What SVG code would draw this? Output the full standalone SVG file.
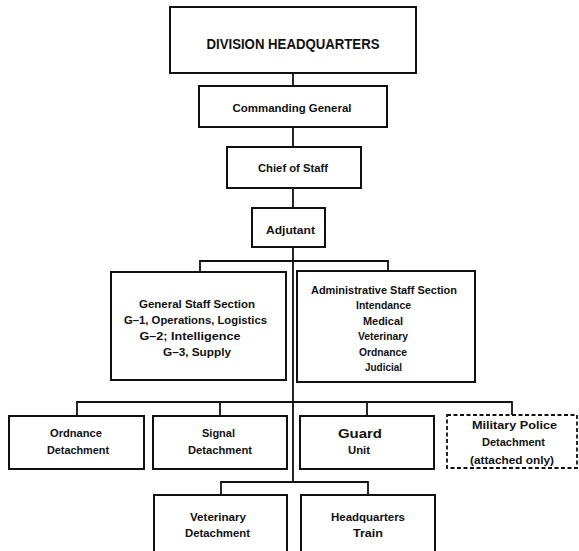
<svg xmlns="http://www.w3.org/2000/svg" width="579" height="551" viewBox="0 0 579 551">
<style>
.box{fill:#fff;stroke:#111;stroke-width:2}
.dash{fill:#fff;stroke:#111;stroke-width:1.8;stroke-dasharray:4 2.5}
.ln{fill:none;stroke:#111;stroke-width:1.8}
text{font-family:"Liberation Sans",Arial,sans-serif;font-weight:bold;fill:#111;text-anchor:middle;font-size:11.5px}
.big{font-size:14.5px}
</style>
<rect width="579" height="551" fill="#fff"/>
<g id="connectors">
<path class="ln" d="M293 73V86M293 127V147M293 188V208M293 247V482"/>
<path class="ln" d="M200 272V261H388V272"/>
<path class="ln" d="M77 416V402H512V415M220 402V416M367 402V416"/>
<path class="ln" d="M221 495V482H368V495"/>
</g>
<g id="division-hq"><rect class="box" x="170" y="7" width="246" height="66"/><text class="big" x="293" y="48.5" textLength="173" lengthAdjust="spacingAndGlyphs">DIVISION HEADQUARTERS</text></g>
<g id="commanding-general"><rect class="box" x="199" y="86" width="188" height="41"/><text x="292" y="112" textLength="119" lengthAdjust="spacingAndGlyphs">Commanding General</text></g>
<g id="chief-of-staff"><rect class="box" x="227" y="147" width="134" height="41"/><text x="293" y="172" textLength="70" lengthAdjust="spacingAndGlyphs">Chief of Staff</text></g>
<g id="adjutant"><rect class="box" x="252" y="208" width="73" height="39"/><text x="290.5" y="234" textLength="49" lengthAdjust="spacingAndGlyphs">Adjutant</text></g>
<g id="general-staff"><rect class="box" x="111" y="272" width="175" height="108"/>
<text x="197" y="308" textLength="116" lengthAdjust="spacingAndGlyphs">General Staff Section</text>
<text x="195.5" y="324" textLength="143" lengthAdjust="spacingAndGlyphs">G–1, Operations, Logistics</text>
<text x="190" y="340" textLength="101" lengthAdjust="spacingAndGlyphs">G–2; Intelligence</text>
<text x="197" y="356" textLength="68" lengthAdjust="spacingAndGlyphs">G–3, Supply</text></g>
<g id="admin-staff"><rect class="box" x="297" y="271" width="178" height="111"/>
<text x="384" y="294" textLength="146" lengthAdjust="spacingAndGlyphs">Administrative Staff Section</text>
<text x="383.5" y="309.4" textLength="55" lengthAdjust="spacingAndGlyphs">Intendance</text>
<text x="383" y="324.8" textLength="40" lengthAdjust="spacingAndGlyphs">Medical</text>
<text x="383" y="340.2" textLength="50" lengthAdjust="spacingAndGlyphs">Veterinary</text>
<text x="383" y="355.6" textLength="48" lengthAdjust="spacingAndGlyphs">Ordnance</text>
<text x="383.5" y="371" textLength="37" lengthAdjust="spacingAndGlyphs">Judicial</text></g>
<g id="ordnance-det"><rect class="box" x="9" y="416" width="135" height="53"/><text x="76" y="437" textLength="52" lengthAdjust="spacingAndGlyphs">Ordnance</text><text x="78" y="454" textLength="62" lengthAdjust="spacingAndGlyphs">Detachment</text></g>
<g id="signal-det"><rect class="box" x="153" y="416" width="134" height="53"/><text x="218.5" y="437" textLength="33" lengthAdjust="spacingAndGlyphs">Signal</text><text x="220" y="454" textLength="64" lengthAdjust="spacingAndGlyphs">Detachment</text></g>
<g id="guard-unit"><rect class="box" x="300" y="416" width="134" height="53"/><text x="360" y="437.5" textLength="44" lengthAdjust="spacingAndGlyphs" style="font-size:12.5px">Guard</text><text x="359" y="454" textLength="22" lengthAdjust="spacingAndGlyphs">Unit</text></g>
<g id="mp-det"><rect class="dash" x="447" y="415" width="130" height="53"/><text x="514.5" y="429" textLength="85" lengthAdjust="spacingAndGlyphs">Military Police</text><text x="513.5" y="445.5" textLength="63" lengthAdjust="spacingAndGlyphs">Detachment</text><text x="512" y="464" textLength="84" lengthAdjust="spacingAndGlyphs">(attached only)</text></g>
<g id="veterinary-det"><rect class="box" x="154" y="495" width="133" height="70"/><text x="218" y="521" textLength="56" lengthAdjust="spacingAndGlyphs">Veterinary</text><text x="217.5" y="537" textLength="65" lengthAdjust="spacingAndGlyphs">Detachment</text></g>
<g id="hq-train"><rect class="box" x="301" y="495" width="134" height="70"/><text x="368" y="521" textLength="74" lengthAdjust="spacingAndGlyphs">Headquarters</text><text x="368" y="537" textLength="30" lengthAdjust="spacingAndGlyphs">Train</text></g>
</svg>
